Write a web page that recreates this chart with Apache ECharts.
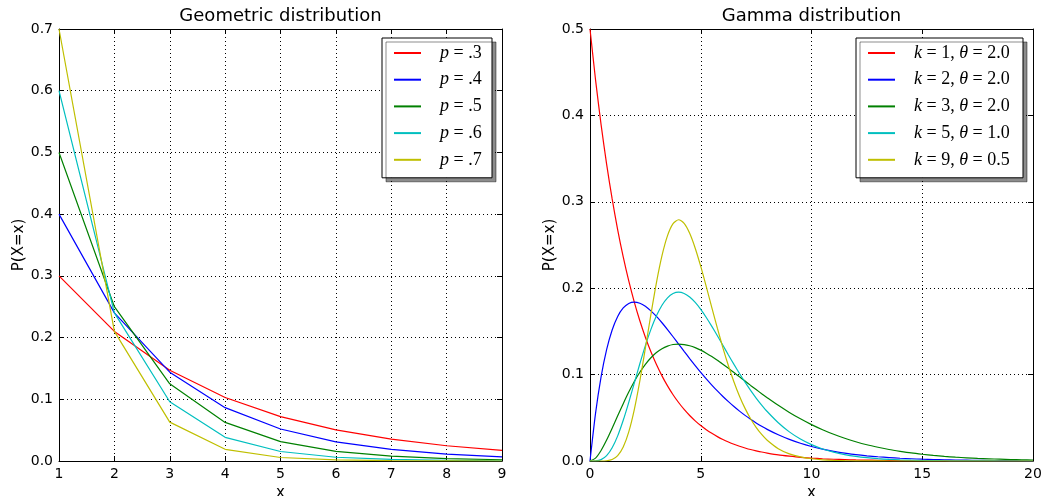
<!DOCTYPE html>
<html>
<head>
<meta charset="utf-8">
<script src="https://cdn.jsdelivr.net/npm/echarts@6/dist/echarts.min.js"></script>
<style>
html,body{margin:0;padding:0;background:#fff;}
#main{width:1059px;height:496px;}
</style>
</head>
<body>
<div id="main"></div>
<script>
// ---- Geometric distribution data ----
var geomX = [1, 2, 3, 4, 5, 6, 7, 8, 9];
var geomP3 = [0.3, 0.21, 0.147, 0.1029, 0.0720, 0.0504, 0.0353, 0.0247, 0.0173];
var geomP4 = [0.4, 0.24, 0.144, 0.0864, 0.0518, 0.0311, 0.0187, 0.0112, 0.0067];
var geomP5 = [0.5, 0.25, 0.125, 0.0625, 0.0313, 0.0156, 0.0078, 0.0039, 0.0020];
var geomP6 = [0.6, 0.24, 0.096, 0.0384, 0.0154, 0.0061, 0.0025, 0.0010, 0.0004];
var geomP7 = [0.7, 0.21, 0.063, 0.0189, 0.0057, 0.0017, 0.0005, 0.0002, 0.0000];

// ---- Gamma distribution data ----
var gammaX = [0,0.25,0.5,0.75,1,1.25,1.5,1.75,2,2.25,2.5,2.75,3,3.25,3.5,3.75,4,4.25,4.5,4.75,5,5.25,5.5,5.75,6,6.25,6.5,6.75,7,7.25,7.5,7.75,8,
  8.5,9,9.5,10,10.5,11,11.5,12,12.5,13,13.5,14,14.5,15,15.5,16,16.5,17,17.5,18,18.5,19,19.5,20];
var gammaK1 = [0.5,0.4412,0.3894,0.3436,0.3033,0.2676,0.2362,0.2084,0.1839,0.1623,0.1433,0.1264,0.1116,0.0985,0.0869,0.0767,0.0677,0.0597,0.0527,0.0465,0.0410,0.0362,0.0320,0.0282,0.0249,0.0220,0.0194,0.0171,0.0151,0.0133,0.0118,0.0104,0.0092,
  0.0071,0.0056,0.0043,0.0034,0.0026,0.0020,0.0016,0.0012,0.0010,0.0008,0.0006,0.0005,0.0004,0.0003,0.0002,0.0002,0.0001,0.0001,0.0001,0.0001,0,0,0,0];
var gammaK2 = [0,0.0552,0.0974,0.1289,0.1516,0.1673,0.1771,0.1824,0.1839,0.1826,0.1791,0.1738,0.1673,0.1600,0.1521,0.1438,0.1353,0.1269,0.1186,0.1105,0.1026,0.0951,0.0879,0.0811,0.0747,0.0687,0.0630,0.0577,0.0528,0.0483,0.0441,0.0402,0.0366,
  0.0303,0.0250,0.0205,0.0168,0.0138,0.0112,0.0092,0.0074,0.0060,0.0049,0.0040,0.0032,0.0026,0.0021,0.0017,0.0013,0.0011,0.0009,0.0007,0.0006,0.0004,0.0004,0.0003,0.0002];
var gammaK3 = [0,0.0034,0.0122,0.0242,0.0379,0.0523,0.0664,0.0798,0.0920,0.1027,0.1119,0.1195,0.1255,0.1300,0.1330,0.1348,0.1353,0.1348,0.1334,0.1312,0.1283,0.1248,0.1209,0.1166,0.1120,0.1073,0.1024,0.0974,0.0925,0.0875,0.0827,0.0779,0.0733,
  0.0644,0.0562,0.0488,0.0421,0.0362,0.0309,0.0263,0.0223,0.0188,0.0159,0.0133,0.0112,0.0093,0.0078,0.0065,0.0054,0.0044,0.0037,0.0030,0.0025,0.0021,0.0017,0.0014,0.0011];
var gammaK5 = [0,0.0001,0.0016,0.0062,0.0153,0.0291,0.0471,0.0679,0.0902,0.1126,0.1336,0.1523,0.1680,0.1802,0.1888,0.1938,0.1954,0.1939,0.1898,0.1835,0.1755,0.1661,0.1558,0.1450,0.1339,0.1227,0.1118,0.1013,0.0912,0.0817,0.0729,0.0648,0.0573,
  0.0443,0.0337,0.0254,0.0189,0.0139,0.0102,0.0074,0.0053,0.0038,0.0027,0.0019,0.0013,0.0009,0.0006,0.0004,0.0003,0.0002,0.0001,0.0001,0.0001,0,0,0,0];
var gammaK9 = [0,0,0,0.0003,0.0017,0.0062,0.0162,0.0337,0.0595,0.0927,0.1306,0.1697,0.2065,0.2376,0.2608,0.2747,0.2792,0.2750,0.2635,0.2463,0.2252,0.2018,0.1776,0.1537,0.1310,0.1102,0.0915,0.0750,0.0609,0.0489,0.0389,0.0307,0.0240,
  0.0143,0.0083,0.0047,0.0026,0.0014,0.0008,0.0004,0.0002,0.0001,0.0001,0,0,0,0,0,0,0,0,0,0,0,0,0,0];

// ---- Labels ----
var titles = ['Geometric distribution', 'Gamma distribution'];
var geomNames = ['p=.3', 'p=.4', 'p=.5', 'p=.6', 'p=.7'];
var gammaNames = ['k=1, θ=2.0', 'k=2, θ=2.0', 'k=3, θ=2.0', 'k=5, θ=1.0', 'k=9, θ=0.5'];
var yLabel = 'P(X=x)';
var xLabel = 'x';

var colors = ['#ff0000', '#0000ff', '#008000', '#00bfbf', '#bfbf00'];

function pairs(xs, ys) { return xs.map(function (x, i) { return [x, ys[i]]; }); }

var tickFont = { fontFamily: 'DejaVu Sans', fontSize: 14, color: '#000' };

function mainX(gi, min, max, interval) {
  return {
    type: 'value', gridIndex: gi, min: min, max: max, interval: interval, position: 'bottom',
    axisLine: { show: true, onZero: false, lineStyle: { color: '#000', width: 1 } },
    axisTick: { show: true, inside: true, length: 5, lineStyle: { color: '#000' } },
    axisLabel: Object.assign({ margin: 6 }, tickFont),
    splitLine: { show: true, lineStyle: { color: '#000', type: [1, 3], width: 1 } },
    name: xLabel, nameLocation: 'middle', nameGap: 17,
    nameTextStyle: { fontFamily: 'DejaVu Sans', fontSize: 15, color: '#000' }
  };
}
function topX(gi, min, max, interval) {
  return {
    type: 'value', gridIndex: gi, min: min, max: max, interval: interval, position: 'top',
    axisLine: { show: true, onZero: false, lineStyle: { color: '#000', width: 1 } },
    axisTick: { show: true, inside: true, length: 5, lineStyle: { color: '#000' } },
    axisLabel: { show: false }, splitLine: { show: false }
  };
}
function mainY(gi, min, max, interval) {
  return {
    type: 'value', gridIndex: gi, min: min, max: max, interval: interval, position: 'left',
    axisLine: { show: true, onZero: false, lineStyle: { color: '#000', width: 1 } },
    axisTick: { show: true, inside: true, length: 5, lineStyle: { color: '#000' } },
    axisLabel: Object.assign({ margin: 6, formatter: function (v) { return v.toFixed(1); } }, tickFont),
    splitLine: { show: true, lineStyle: { color: '#000', type: [1, 3], width: 1 } },
    name: yLabel, nameLocation: 'middle', nameGap: 31, nameRotate: 90,
    nameTextStyle: { fontFamily: 'DejaVu Sans', fontSize: 15, color: '#000' }
  };
}
function rightY(gi, min, max, interval) {
  return {
    type: 'value', gridIndex: gi, min: min, max: max, interval: interval, position: 'right',
    axisLine: { show: true, onZero: false, lineStyle: { color: '#000', width: 1 } },
    axisTick: { show: true, inside: true, length: 5, lineStyle: { color: '#000' } },
    axisLabel: { show: false }, splitLine: { show: false }
  };
}

var geomSeriesData = [geomP3, geomP4, geomP5, geomP6, geomP7];
var gammaSeriesData = [gammaK1, gammaK2, gammaK3, gammaK5, gammaK9];

var series = [];
geomSeriesData.forEach(function (d, i) {
  series.push({
    name: geomNames[i], type: 'line', xAxisIndex: 0, yAxisIndex: 0,
    data: pairs(geomX, d), showSymbol: false, symbol: 'none', z: 3,
    lineStyle: { color: colors[i], width: 1.2 }, itemStyle: { color: colors[i] }
  });
});
gammaSeriesData.forEach(function (d, i) {
  series.push({
    name: gammaNames[i], type: 'line', xAxisIndex: 2, yAxisIndex: 2,
    data: pairs(gammaX, d), showSymbol: false, symbol: 'none', smooth: 0.25, z: 3,
    lineStyle: { color: colors[i], width: 1.2 }, itemStyle: { color: colors[i] }
  });
});

function legendFormatter(name) {
  var parts = name.split(', ');
  var out = '{s|}';
  parts.forEach(function (p, idx) {
    var eq = p.indexOf('=');
    var v = p.substring(0, eq), rest = p.substring(eq + 1);
    if (idx > 0) out += '{n|, }';
    out += '{i|' + v + '}{n| = ' + rest + '}';
  });
  return out;
}
var legendRich = {
  s: { width: 14 },
  i: { fontFamily: 'Liberation Serif', fontStyle: 'italic', fontSize: 18, color: '#000' },
  n: { fontFamily: 'Liberation Serif', fontSize: 18, color: '#000' }
};
function makeLegend(names, left, top, textWidth) {
  return {
    data: names.map(function (n) { return { name: n, icon: 'rect' }; }),
    orient: 'vertical', left: left, top: top,
    padding: [6, 8, 9, 12], itemGap: 8.7, itemWidth: 27, itemHeight: 2,
    selectedMode: false,
    backgroundColor: '#fff', borderColor: '#000', borderWidth: 1, borderRadius: 0,
    shadowColor: 'rgba(0,0,0,0.45)', shadowBlur: 0, shadowOffsetX: 4, shadowOffsetY: 4,
    formatter: legendFormatter,
    textStyle: { lineHeight: 18, height: 18, width: textWidth, rich: legendRich }
  };
}

var option = {
  animation: false,
  backgroundColor: '#fff',
  title: [
    { text: titles[0], left: 280.5, top: 7, textAlign: 'center', padding: 0,
      textStyle: { fontFamily: 'DejaVu Sans', fontSize: 18, fontWeight: 'normal', color: '#000' } },
    { text: titles[1], left: 811.5, top: 7, textAlign: 'center', padding: 0,
      textStyle: { fontFamily: 'DejaVu Sans', fontSize: 18, fontWeight: 'normal', color: '#000' } }
  ],
  grid: [
    { left: 59, right: 557, top: 29, bottom: 35, containLabel: false, outerBoundsMode: 'none' },
    { left: 590, right: 26, top: 29, bottom: 35, containLabel: false, outerBoundsMode: 'none' }
  ],
  xAxis: [mainX(0, 1, 9, 1), topX(0, 1, 9, 1), mainX(1, 0, 20, 5), topX(1, 0, 20, 5)],
  yAxis: [mainY(0, 0, 0.7, 0.1), rightY(0, 0, 0.7, 0.1), mainY(1, 0, 0.5, 0.1), rightY(1, 0, 0.5, 0.1)],
  legend: [
    makeLegend(geomNames, 382, 38, 58),
    makeLegend(gammaNames, 856, 38, 115)
  ],
  series: series
};

var chart = echarts.init(document.getElementById('main'), null, { renderer: 'canvas' });
chart.setOption(option);
</script>
</body>
</html>
